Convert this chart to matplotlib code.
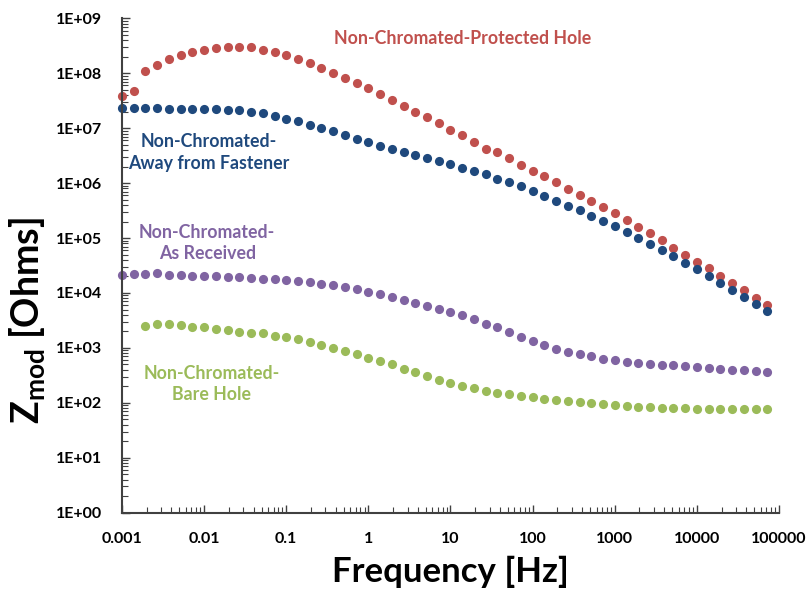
import numpy as np
import matplotlib
matplotlib.use("Agg")
import matplotlib.pyplot as plt

# ---------------- data ----------------
freq_hz = [
    0.001, 0.00139, 0.00193, 0.00268, 0.00373, 0.00518, 0.00720,
    0.01, 0.0139, 0.0193, 0.0268, 0.0373, 0.0518, 0.0720,
    0.1, 0.139, 0.193, 0.268, 0.373, 0.518, 0.720,
    1, 1.39, 1.93, 2.68, 3.73, 5.18, 7.20,
    10, 13.9, 19.3, 26.8, 37.3, 51.8, 72.0,
    100, 139, 193, 268, 373, 518, 720,
    1000, 1390, 1930, 2680, 3730, 5180, 7200,
    10000, 13900, 19300, 26800, 37300, 51800, 72000,
]

z_protected_hole = [
    3.78e7, 4.66e7, 1.08e8, 1.43e8, 1.82e8, 2.11e8, 2.39e8,
    2.68e8, 2.92e8, 3.04e8, 3.00e8, 2.95e8, 2.68e8, 2.39e8,
    2.11e8, 1.82e8, 1.51e8, 1.24e8, 1.03e8, 8.28e7, 6.71e7,
    5.28e7, 4.15e7, 3.29e7, 2.56e7, 1.99e7, 1.59e7, 1.24e7,
    9.35e6, 7.59e6, 5.49e6, 4.16e6, 3.67e6, 2.81e6, 2.13e6,
    1.68e6, 1.32e6, 1.04e6, 7.87e5, 6.12e5, 4.70e5, 3.60e5,
    2.84e5, 2.15e5, 1.60e5, 1.23e5, 9.16e4, 6.71e4, 4.94e4,
    3.73e4, 2.83e4, 2.05e4, 1.51e4, 1.14e4, 8.24e3, 6.00e3,
]

z_away_from_fastener = [
    2.32e7, 2.32e7, 2.32e7, 2.32e7, 2.26e7, 2.26e7, 2.26e7,
    2.23e7, 2.23e7, 2.16e7, 2.10e7, 2.01e7, 1.88e7, 1.68e7,
    1.50e7, 1.33e7, 1.15e7, 1.00e7, 8.71e6, 7.59e6, 6.33e6,
    5.49e6, 4.78e6, 4.16e6, 3.61e6, 3.28e6, 2.89e6, 2.55e6,
    2.25e6, 1.92e6, 1.68e6, 1.46e6, 1.18e6, 1.06e6, 8.93e5,
    7.33e5, 5.94e5, 4.82e5, 3.91e5, 3.27e5, 2.57e5, 2.08e5,
    1.65e5, 1.28e5, 1.02e5, 7.94e4, 6.10e4, 4.68e4, 3.49e4,
    2.72e4, 2.02e4, 1.55e4, 1.14e4, 8.49e3, 6.41e3, 4.72e3,
]

z_as_received = [
    2.14e4, 2.23e4, 2.23e4, 2.29e4, 2.14e4, 2.11e4, 2.05e4,
    2.05e4, 2.05e4, 1.99e4, 1.94e4, 1.88e4, 1.83e4, 1.81e4,
    1.73e4, 1.66e4, 1.57e4, 1.47e4, 1.39e4, 1.29e4, 1.20e4,
    1.06e4, 9.63e3, 8.49e3, 7.48e3, 6.68e3, 5.87e3, 5.20e3,
    4.58e3, 3.94e3, 3.42e3, 2.74e3, 2.38e3, 1.96e3, 1.59e3,
    1.32e3, 1.15e3, 971, 857, 787, 706, 638,
    604, 563, 533, 518, 497, 484, 470,
    445, 427, 414, 403, 393, 381, 370,
]

z_bare_hole = [
    None, None, 2.52e3, 2.74e3, 2.74e3, 2.66e3, 2.44e3,
    2.38e3, 2.25e3, 2.13e3, 1.98e3, 1.90e3, 1.85e3, 1.68e3,
    1.61e3, 1.44e3, 1.27e3, 1.13e3, 1.00e3, 881, 778,
    658, 573, 505, 414, 366, 309, 259,
    232, 203, 185, 165, 153, 147, 135,
    126, 119, 113, 108, 104, 99.5, 94.2,
    90.4, 87.9, 85.3, 83.2, 81.8, 80.7, 79.8,
    78.4, 77.4, 77.4, 77.4, 77.4, 77.4, 77.4,
]

x_tick_values = [0.001, 0.01, 0.1, 1, 10, 100, 1000, 10000, 100000]
x_tick_labels = ["0.001", "0.01", "0.1", "1", "10", "100", "1000", "10000", "100000"]
y_tick_values = [1e0, 1e1, 1e2, 1e3, 1e4, 1e5, 1e6, 1e7, 1e8, 1e9]
y_tick_labels = ["1E+00", "1E+01", "1E+02", "1E+03", "1E+04",
                 "1E+05", "1E+06", "1E+07", "1E+08", "1E+09"]

series_labels = [
    "Non-Chromated-Protected Hole",
    "Non-Chromated-\nAway from Fastener",
    "Non-Chromated-\nAs Received",
    "Non-Chromated-\nBare Hole",
]

# ---------------- style ----------------
RED = "#C0504D"
BLUE = "#1F497D"
PURPLE = "#8064A2"
GREEN = "#9BBB59"
AXCOL = "#404040"

FONT = "Lato"
plt.rcParams["font.family"] = [FONT, "DejaVu Sans"]
plt.rcParams["mathtext.fontset"] = "custom"
plt.rcParams["mathtext.rm"] = FONT
plt.rcParams["mathtext.bf"] = FONT + ":bold"

fig = plt.figure(figsize=(8.12, 5.93), dpi=100)
ax = fig.add_axes([0.1502, 0.1354, 0.8092, 0.8337])

f = np.array(freq_hz, dtype=float)
series = [
    (np.array(z_protected_hole, dtype=float), RED),
    (np.array(z_away_from_fastener, dtype=float), BLUE),
    (np.array(z_as_received, dtype=float), PURPLE),
    (np.array([np.nan if v is None else v for v in z_bare_hole], dtype=float), GREEN),
]
for z, c in series:
    ax.plot(f, z, linestyle="none", marker="o", markersize=6.6,
            markerfacecolor=c, markeredgewidth=0, color=c, clip_on=False)

ax.set_xscale("log")
ax.set_yscale("log")
ax.set_xlim(0.001, 100000)
ax.set_ylim(1, 1e9)

ax.set_xticks(x_tick_values)
ax.set_xticklabels(x_tick_labels)
ax.set_yticks(y_tick_values)
ax.set_yticklabels(y_tick_labels)
ax.xaxis.set_minor_locator(matplotlib.ticker.LogLocator(base=10, subs=np.arange(2, 10)))
ax.yaxis.set_minor_locator(matplotlib.ticker.LogLocator(base=10, subs=np.arange(2, 10), numticks=20))
ax.xaxis.set_minor_formatter(matplotlib.ticker.NullFormatter())
ax.yaxis.set_minor_formatter(matplotlib.ticker.NullFormatter())

for lbl in ax.get_xticklabels() + ax.get_yticklabels():
    lbl.set_fontweight("bold")
    lbl.set_fontsize(11.5)

ax.tick_params(axis="both", which="major", direction="in", length=6, width=1.0,
               color=AXCOL, labelcolor="black")
ax.tick_params(axis="both", which="minor", direction="in", length=4, width=0.8,
               color=AXCOL)
ax.tick_params(axis="x", which="major", pad=14)
ax.tick_params(axis="y", which="major", pad=14)

for s in ["top", "right"]:
    ax.spines[s].set_visible(False)
for s in ["left", "bottom"]:
    ax.spines[s].set_color(AXCOL)
    ax.spines[s].set_linewidth(1.5)

ax.set_xlabel("Frequency [Hz]", fontsize=25, fontweight="bold")
ax.xaxis.set_label_coords(0.5, -0.088)
ax.set_ylabel(r"Z$_{\mathbf{mod}}$ [Ohms]", fontsize=27, fontweight="bold")
ax.yaxis.set_label_coords(-0.112, 0.388)

# series annotations (positions in axes fraction)
ax.text(0.519, 0.960, series_labels[0], transform=ax.transAxes, color=RED,
        fontsize=12.8, fontweight="bold", ha="center", va="center")
ax.text(0.132, 0.7286, series_labels[1], transform=ax.transAxes, color=BLUE,
        fontsize=12.8, fontweight="bold", ha="center", va="center", linespacing=1.33)
ax.text(0.1297, 0.5455, series_labels[2], transform=ax.transAxes, color=PURPLE,
        fontsize=12.8, fontweight="bold", ha="center", va="center", linespacing=1.33)
ax.text(0.136, 0.2603, series_labels[3], transform=ax.transAxes, color=GREEN,
        fontsize=12.8, fontweight="bold", ha="center", va="center", linespacing=1.33)

fig.savefig("out.png", dpi=100)
